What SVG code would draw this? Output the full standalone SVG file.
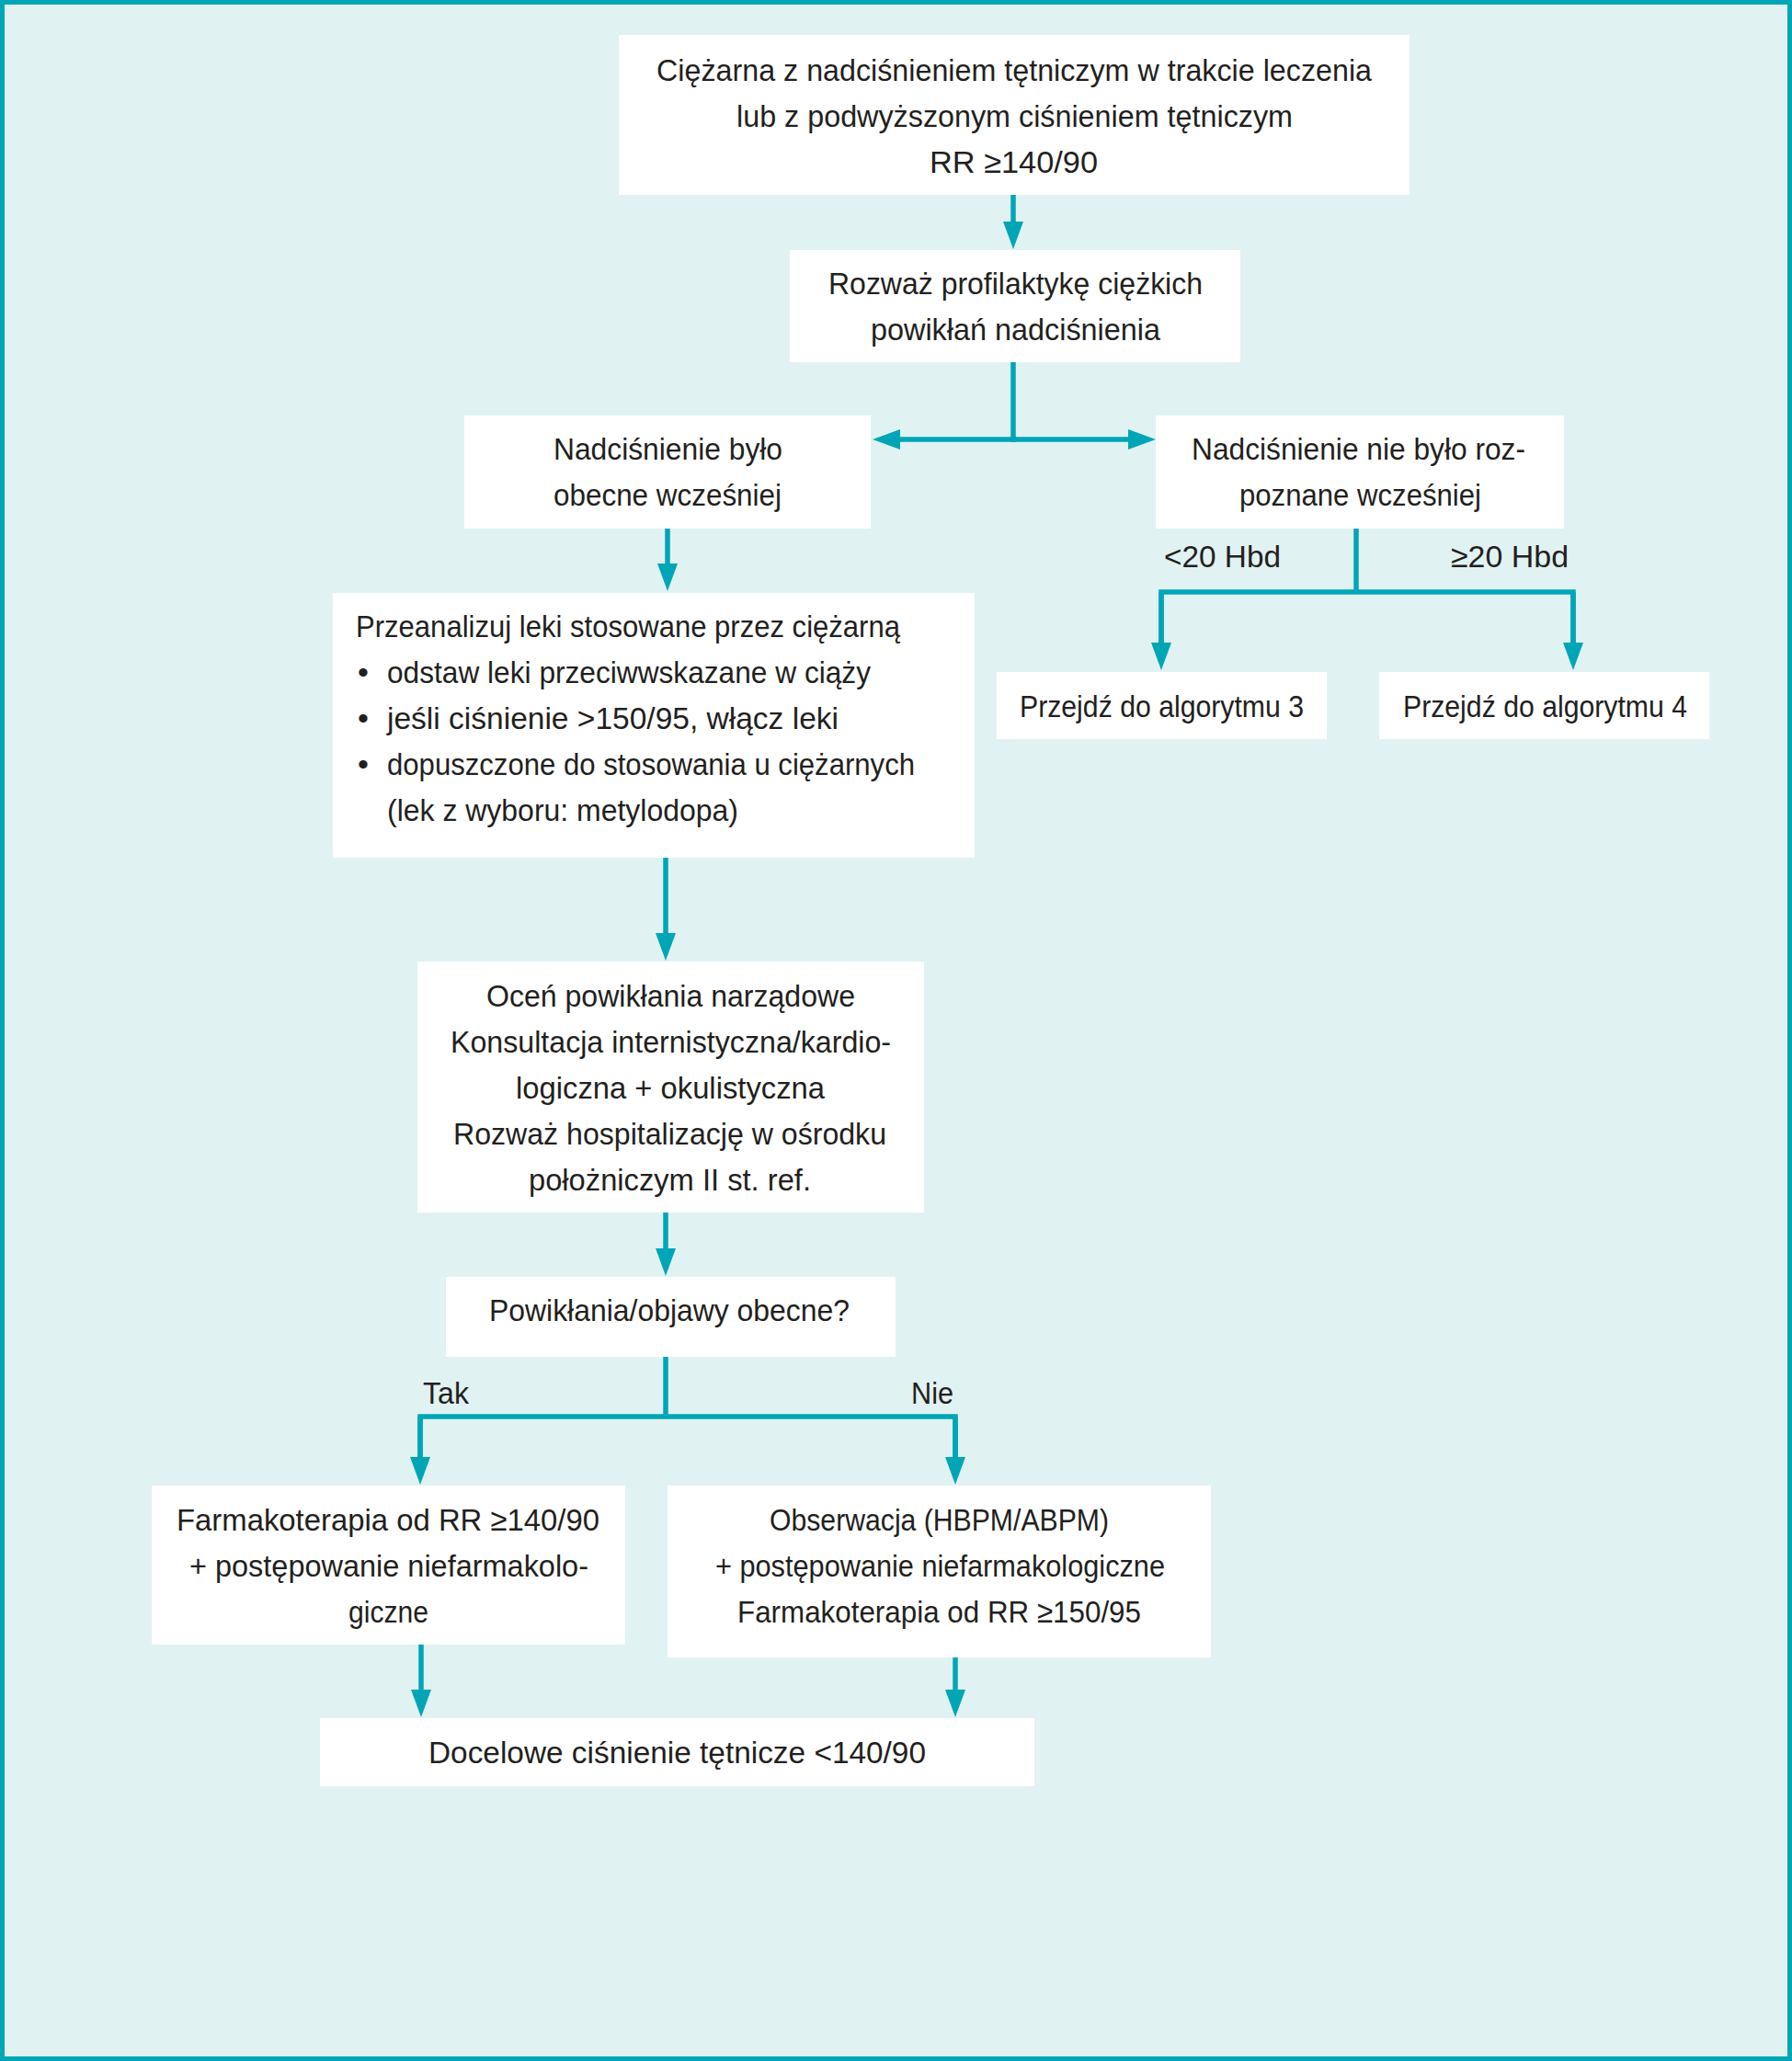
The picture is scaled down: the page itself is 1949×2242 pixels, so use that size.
<svg xmlns="http://www.w3.org/2000/svg" width="1949" height="2242" viewBox="0 0 1949 2242">
<defs>
<style>
.box{fill:#ffffff}
.t{font-family:"Liberation Sans","Noto Sans",Arial,sans-serif;font-size:34px;fill:#231f20}
.c{fill:none;stroke:#00a6b6;stroke-width:5.5;stroke-linejoin:miter}
.a{marker-end:url(#ah)}
</style>
<marker id="ah" markerUnits="userSpaceOnUse" viewBox="0 0 30 22" markerWidth="30" markerHeight="22" refX="1" refY="11" orient="auto">
<path d="M0,0 L30,11 L0,22 z" fill="#00a6b6"/>
</marker>
</defs>
<rect x="0" y="0" width="1949" height="2242" fill="#00a6b6"/>
<rect x="5" y="5" width="1939" height="2232" fill="#e1f2f3"/>

<g id="connectors">
<path class="c a" d="M1102,212 V242"/>
<path class="c" d="M1102,394 V478"/>
<path class="c a" d="M1105,478 H978"/>
<path class="c a" d="M1099,478 H1228"/>
<path class="c" d="M1475,575 V644"/>
<path class="c a" d="M1263,644 V700"/>
<path class="c" d="M1263,700 V644 H1711 V700"/>
<path class="c a" d="M1711,644 V700"/>
<path class="c a" d="M726,575 V614"/>
<path class="c a" d="M724,933 V1016"/>
<path class="c a" d="M724,1319 V1359"/>
<path class="c" d="M724,1476 V1541"/>
<path class="c" d="M457,1586 V1541 H1039 V1586"/>
<path class="c a" d="M457,1541 V1586"/>
<path class="c a" d="M1039,1541 V1586"/>
<path class="c a" d="M458,1789 V1839"/>
<path class="c a" d="M1039,1803 V1839"/>
</g>

<g id="n1">
<rect class="box" x="673" y="38" width="860" height="174"/>
<text class="t" x="714" y="88" textLength="778" lengthAdjust="spacingAndGlyphs">Ciężarna z nadciśnieniem tętniczym w trakcie leczenia</text>
<text class="t" x="801" y="138" textLength="605" lengthAdjust="spacingAndGlyphs">lub z podwyższonym ciśnieniem tętniczym</text>
<text class="t" x="1011" y="188" textLength="183" lengthAdjust="spacingAndGlyphs">RR ≥140/90</text>
</g>

<g id="n2">
<rect class="box" x="859" y="272" width="490" height="122"/>
<text class="t" x="901" y="320" textLength="407" lengthAdjust="spacingAndGlyphs">Rozważ profilaktykę ciężkich</text>
<text class="t" x="947" y="370" textLength="315" lengthAdjust="spacingAndGlyphs">powikłań nadciśnienia</text>
</g>

<g id="n3">
<rect class="box" x="505" y="452" width="442" height="123"/>
<text class="t" x="602" y="500" textLength="249" lengthAdjust="spacingAndGlyphs">Nadciśnienie było</text>
<text class="t" x="602" y="550" textLength="248" lengthAdjust="spacingAndGlyphs">obecne wcześniej</text>
</g>

<g id="n4">
<rect class="box" x="1257" y="452" width="444" height="123"/>
<text class="t" x="1296" y="500" textLength="363" lengthAdjust="spacingAndGlyphs">Nadciśnienie nie było roz-</text>
<text class="t" x="1348" y="550" textLength="263" lengthAdjust="spacingAndGlyphs">poznane wcześniej</text>
</g>

<g id="labels">
<text class="t" x="1266" y="617" textLength="127" lengthAdjust="spacingAndGlyphs">&lt;20 Hbd</text>
<text class="t" x="1578" y="617" textLength="128" lengthAdjust="spacingAndGlyphs">≥20 Hbd</text>
<text class="t" x="460" y="1527" textLength="50" lengthAdjust="spacingAndGlyphs">Tak</text>
<text class="t" x="991" y="1527" textLength="46" lengthAdjust="spacingAndGlyphs">Nie</text>
</g>

<g id="n5">
<rect class="box" x="1084" y="731" width="359" height="73"/>
<text class="t" x="1109" y="780" textLength="309" lengthAdjust="spacingAndGlyphs">Przejdź do algorytmu 3</text>
</g>

<g id="n6">
<rect class="box" x="1500" y="731" width="359" height="73"/>
<text class="t" x="1526" y="780" textLength="309" lengthAdjust="spacingAndGlyphs">Przejdź do algorytmu 4</text>
</g>

<g id="n7">
<rect class="box" x="362" y="645" width="698" height="288"/>
<text class="t" x="387" y="693" textLength="592" lengthAdjust="spacingAndGlyphs">Przeanalizuj leki stosowane przez ciężarną</text>
<text class="t" x="389" y="743">•</text>
<text class="t" x="421" y="743" textLength="526" lengthAdjust="spacingAndGlyphs">odstaw leki przeciwwskazane w ciąży</text>
<text class="t" x="389" y="793">•</text>
<text class="t" x="421" y="793" textLength="491" lengthAdjust="spacingAndGlyphs">jeśli ciśnienie &gt;150/95, włącz leki</text>
<text class="t" x="389" y="843">•</text>
<text class="t" x="421" y="843" textLength="574" lengthAdjust="spacingAndGlyphs">dopuszczone do stosowania u ciężarnych</text>
<text class="t" x="421" y="893" textLength="382" lengthAdjust="spacingAndGlyphs">(lek z wyboru: metylodopa)</text>
</g>

<g id="n8">
<rect class="box" x="454" y="1046" width="551" height="273"/>
<text class="t" x="529" y="1095" textLength="401" lengthAdjust="spacingAndGlyphs">Oceń powikłania narządowe</text>
<text class="t" x="490" y="1145" textLength="479" lengthAdjust="spacingAndGlyphs">Konsultacja internistyczna/kardio-</text>
<text class="t" x="561" y="1195" textLength="336" lengthAdjust="spacingAndGlyphs">logiczna + okulistyczna</text>
<text class="t" x="493" y="1245" textLength="471" lengthAdjust="spacingAndGlyphs">Rozważ hospitalizację w ośrodku</text>
<text class="t" x="575" y="1295" textLength="307" lengthAdjust="spacingAndGlyphs">położniczym II st. ref.</text>
</g>

<g id="n9">
<rect class="box" x="485" y="1389" width="489" height="87"/>
<text class="t" x="532" y="1437" textLength="392" lengthAdjust="spacingAndGlyphs">Powikłania/objawy obecne?</text>
</g>

<g id="n10">
<rect class="box" x="165" y="1616" width="515" height="173"/>
<text class="t" x="192" y="1665" textLength="460" lengthAdjust="spacingAndGlyphs">Farmakoterapia od RR ≥140/90</text>
<text class="t" x="206" y="1715" textLength="434" lengthAdjust="spacingAndGlyphs">+ postępowanie niefarmakolo-</text>
<text class="t" x="379" y="1765" textLength="87" lengthAdjust="spacingAndGlyphs">giczne</text>
</g>

<g id="n11">
<rect class="box" x="726" y="1616" width="591" height="187"/>
<text class="t" x="837" y="1665" textLength="369" lengthAdjust="spacingAndGlyphs">Obserwacja (HBPM/ABPM)</text>
<text class="t" x="778" y="1715" textLength="489" lengthAdjust="spacingAndGlyphs">+ postępowanie niefarmakologiczne</text>
<text class="t" x="802" y="1765" textLength="439" lengthAdjust="spacingAndGlyphs">Farmakoterapia od RR ≥150/95</text>
</g>

<g id="n12">
<rect class="box" x="348" y="1869" width="777" height="74"/>
<text class="t" x="466" y="1918" textLength="541" lengthAdjust="spacingAndGlyphs">Docelowe ciśnienie tętnicze &lt;140/90</text>
</g>
</svg>
